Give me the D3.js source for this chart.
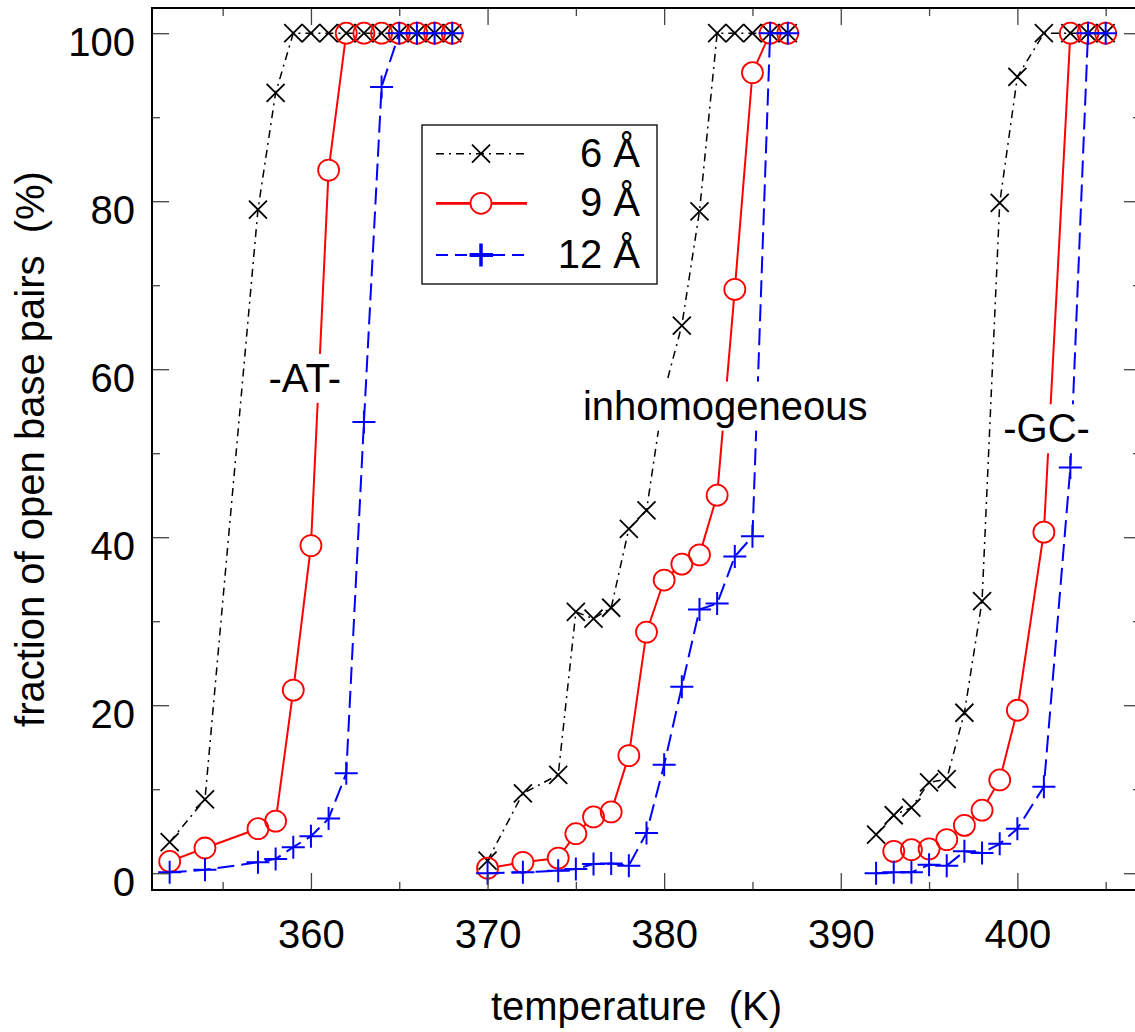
<!DOCTYPE html>
<html><head><meta charset="utf-8">
<script src="https://cdn.jsdelivr.net/npm/d3@7"></script>
<style>
html,body{margin:0;padding:0;background:#fff;}
svg{display:block;font-family:"Liberation Sans",Arial,sans-serif;}
</style></head>
<body>
<svg id="chart" width="1135" height="1032"></svg>
<script>
// ---------- data ----------
const tempsAT    = [352, 354, 357, 358, 359, 360, 361, 362, 363, 364, 365, 366, 367, 368];
const at6        = [3.7, 8.8, 79.0, 92.9, 100, 100, 100, 100, 100, 100, 100, 100, 100, 100];
const at9        = [1.4, 3.0, 5.3, 6.2, 21.8, 39.0, 83.7, 100, 100, 100, 100, 100, 100, 100];
const at12       = [0.1, 0.4, 1.3, 1.7, 3.1, 4.4, 6.5, 11.9, 53.7, 93.6, 100, 100, 100, 100];

const tempsInh   = [370, 372, 374, 375, 376, 377, 378, 379, 380, 381, 382, 383, 384, 385, 386, 387];
const inh6       = [1.5, 9.5, 11.7, 31.1, 30.3, 31.6, 41.0, 43.2, 57.3, 65.2, 78.8, 100, 100, 100, 100, 100];
const inh9       = [0.6, 1.3, 1.8, 4.7, 6.7, 7.3, 14.0, 28.7, 34.9, 36.8, 37.9, 45.0, 69.5, 95.3, 100, 100];
const inh12      = [0.0, 0.1, 0.3, 0.5, 1.1, 1.15, 0.9, 4.8, 12.9, 22.2, 31.4, 32.1, 37.7, 40.1, 100, 100];

const tempsGC    = [392, 393, 394, 395, 396, 397, 398, 399, 400, 401.5, 403, 404, 405];
const gc6        = [4.6, 6.9, 7.8, 10.8, 11.2, 19.1, 32.4, 79.8, 94.8, 100, 100, 100, 100];
const gc9        = [null, 2.6, 2.8, 2.9, 4.0, 5.7, 7.5, 11.1, 19.4, 40.6, 100, 100, 100];
const gc12       = [0.0, 0.1, 0.1, 1.0, 0.9, 2.6, 2.4, 3.5, 5.3, 10.3, 48.3, 100, 100];

const seriesNames = ["6 Å", "9 Å", "12 Å"];
const xMajorTicks = [360, 370, 380, 390, 400];
const xMinorTicks = [355, 365, 375, 385, 395, 405];
const yMajorTicks = [0, 20, 40, 60, 80, 100];
const yMinorTicks = [10, 30, 50, 70, 90];
const groupLabels = ["-AT-", "inhomogeneous", "-GC-"];
const xTitle = "temperature  (K)";
const yTitle = "fraction of open base pairs  (%)";

// ---------- layout ----------
const svg = d3.select("#chart");
const L = 152, R = 1141, T = 8, B = 890;
const x = d3.scaleLinear().domain([351, 407]).range([L, R]);
const y = d3.scaleLinear().domain([-2, 103]).range([B, T]);
const FS = 40;

const groups = [
  {t: tempsAT,  s: [at6, at9, at12]},
  {t: tempsInh, s: [inh6, inh9, inh12]},
  {t: tempsGC,  s: [gc6, gc9, gc12]}
];

const styles = [
  {color:"#000", width:1.5, dash:"8,5,2,5", marker:"x"},
  {color:"#ff0000", width:2, dash:null, marker:"o"},
  {color:"#0000ff", width:2, dash:"17,7", marker:"+"}
];

const R_CIRC = 10.5;

// mask for red line (line does not enter circles)
const defs = svg.append("defs");
const mask = defs.append("mask").attr("id","redmask").attr("maskUnits","userSpaceOnUse")
  .attr("x",0).attr("y",0).attr("width",1135).attr("height",1032);
mask.append("rect").attr("x",0).attr("y",0).attr("width",1135).attr("height",1032).attr("fill","#fff");

function drawMarker(g, type, cx, cy, color, sw) {
  if (type === "x") {
    g.append("path").attr("d",`M${cx-9},${cy-9}L${cx+9},${cy+9}M${cx-9},${cy+9}L${cx+9},${cy-9}`)
      .attr("stroke",color).attr("stroke-width",sw||1.8).attr("fill","none");
  } else if (type === "o") {
    g.append("circle").attr("cx",cx).attr("cy",cy).attr("r",R_CIRC)
      .attr("stroke",color).attr("stroke-width",sw||1.8).attr("fill","none");
  } else {
    g.append("path").attr("d",`M${cx-11.5},${cy}H${cx+11.5}M${cx},${cy-11.5}V${cy+11.5}`)
      .attr("stroke",color).attr("stroke-width",sw||2).attr("fill","none");
  }
}

// add mask holes
groups.forEach(gr => {
  gr.t.forEach((tv,i) => {
    const v = gr.s[1][i];
    if (v == null) return;
    mask.append("circle").attr("cx",x(tv)).attr("cy",y(v)).attr("r",R_CIRC).attr("fill","#000");
  });
});

const plot = svg.append("g");
const line = d3.line().defined(d => d.v != null).x(d => x(d.t)).y(d => y(d.v));

[0,1,2].forEach(si => {
  const st = styles[si];
  const sg = plot.append("g");
  groups.forEach(gr => {
    const pts = gr.t.map((tv,i) => ({t: tv, v: gr.s[si][i]}));
    const p = sg.append("path").datum(pts).attr("d", line)
      .attr("fill","none").attr("stroke",st.color).attr("stroke-width",st.width);
    if (st.dash) p.attr("stroke-dasharray", st.dash);
    if (si === 1) p.attr("mask","url(#redmask)");
    pts.filter(d => d.v != null).forEach(d => drawMarker(sg, st.marker, x(d.t), y(d.v), st.color));
  });
});

// ---------- group labels with white boxes ----------
const labelPos = [[357.6, 57.3], [375.4, 54.0], [399.2, 51.3]];
groupLabels.forEach((txt, i) => {
  const g = svg.append("g");
  const r = g.append("rect").attr("fill","#fff");
  const t = g.append("text").attr("x", x(labelPos[i][0])).attr("y", y(labelPos[i][1]))
    .attr("font-size", FS).attr("fill","#000").text(txt);
  const bb = t.node().getBBox();
  r.attr("x", bb.x - 6).attr("y", bb.y - 2).attr("width", bb.width + 12).attr("height", bb.height + 5);
});

// ---------- axes ----------
const tickColor = "#444";
function styleAxis(g) {
  g.select(".domain").remove();
  g.selectAll(".tick line").attr("stroke", tickColor).attr("stroke-width", 1.3);
}
svg.append("g").attr("transform",`translate(0,${B})`)
  .call(d3.axisBottom(x).tickValues(xMajorTicks).tickSize(-17).tickPadding(30).tickFormat(d3.format("d")))
  .call(styleAxis)
  .call(g => g.selectAll("text").attr("font-size",FS).attr("font-family","Liberation Sans, Arial, sans-serif").attr("fill","#000"));
svg.append("g").attr("transform",`translate(0,${B})`)
  .call(d3.axisBottom(x).tickValues(xMinorTicks).tickSize(-8).tickFormat(""))
  .call(styleAxis);
svg.append("g").attr("transform",`translate(0,${T})`)
  .call(d3.axisTop(x).tickValues(xMajorTicks).tickSize(-17).tickFormat(""))
  .call(styleAxis);
svg.append("g").attr("transform",`translate(0,${T})`)
  .call(d3.axisTop(x).tickValues(xMinorTicks).tickSize(-8).tickFormat(""))
  .call(styleAxis);
svg.append("g").attr("transform",`translate(${L},0)`)
  .call(d3.axisLeft(y).tickValues(yMajorTicks).tickSize(-17).tickPadding(17).tickFormat(d3.format("d")))
  .call(styleAxis)
  .call(g => g.selectAll("text").attr("font-size",FS).attr("dy","0.55em").attr("font-family","Liberation Sans, Arial, sans-serif").attr("fill","#000"));
svg.append("g").attr("transform",`translate(${L},0)`)
  .call(d3.axisLeft(y).tickValues(yMinorTicks).tickSize(-8).tickFormat(""))
  .call(styleAxis);
svg.append("g").attr("transform",`translate(${R},0)`)
  .call(d3.axisRight(y).tickValues(yMajorTicks).tickSize(-17).tickFormat(""))
  .call(styleAxis);
svg.append("g").attr("transform",`translate(${R},0)`)
  .call(d3.axisRight(y).tickValues(yMinorTicks).tickSize(-8).tickFormat(""))
  .call(styleAxis);

// frame
svg.append("rect").attr("x",L).attr("y",T).attr("width",R-L).attr("height",B-T)
  .attr("fill","none").attr("stroke","#000").attr("stroke-width",2);

// titles
svg.append("text").attr("x",(L+R)/2 - 10).attr("y",1020).attr("text-anchor","middle")
  .attr("font-size",FS).style("white-space","pre").text(xTitle);
svg.append("text").attr("transform",`translate(44,${(T+B)/2}) rotate(-90)`).attr("text-anchor","middle")
  .attr("font-size",FS).style("white-space","pre").text(yTitle);

// ---------- legend ----------
const lg = svg.append("g");
lg.append("rect").attr("x",422).attr("y",125).attr("width",235).attr("height",159)
  .attr("fill","#fff").attr("stroke","#000").attr("stroke-width",1.3);
const rowsY = [153.7, 203.3, 255];
seriesNames.forEach((name, i) => {
  const st = styles[i];
  const ry = rowsY[i];
  if (i === 1) {
    lg.append("line").attr("x1",436).attr("x2",481-R_CIRC).attr("y1",ry).attr("y2",ry)
      .attr("stroke",st.color).attr("stroke-width",2.7);
    lg.append("line").attr("x1",481+R_CIRC).attr("x2",527).attr("y1",ry).attr("y2",ry)
      .attr("stroke",st.color).attr("stroke-width",2.7);
  } else {
    const l = lg.append("line").attr("x1",436).attr("x2",527).attr("y1",ry).attr("y2",ry)
      .attr("stroke",st.color).attr("stroke-width",st.width);
    l.attr("stroke-dasharray", i === 0 ? st.dash : "12,7");
    if (i === 2) {
      lg.append("line").attr("x1",470).attr("x2",493).attr("y1",ry).attr("y2",ry)
        .attr("stroke",st.color).attr("stroke-width",4);
    }
  }
  drawMarker(lg, st.marker, 481, ry, st.color, i === 2 ? 3.5 : null);
  lg.append("text").attr("x",640).attr("y",ry+13).attr("text-anchor","end")
    .attr("font-size",FS).text(name);
});
</script>
</body></html>
